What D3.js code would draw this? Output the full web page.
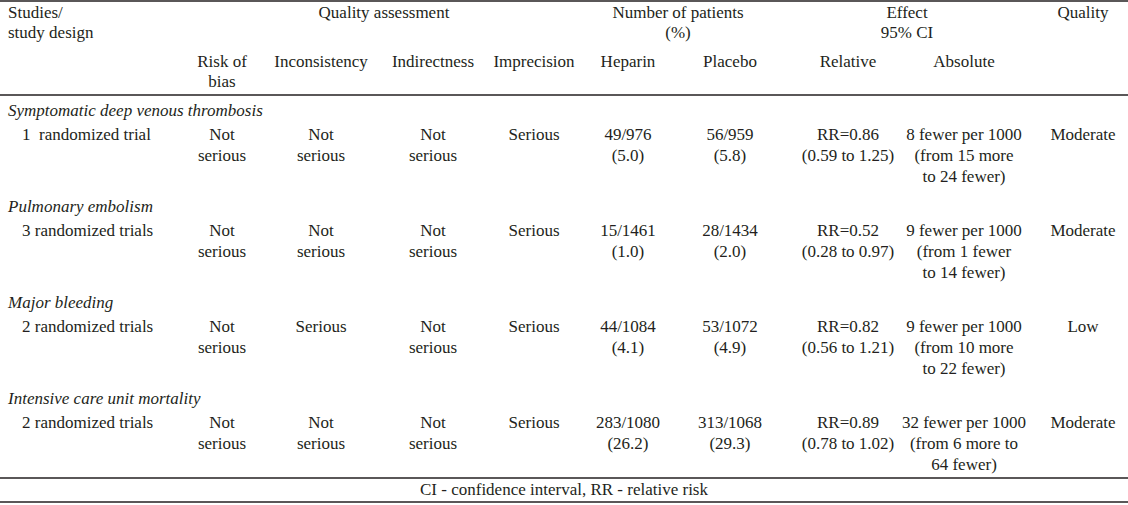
<!DOCTYPE html>
<html>
<head>
<meta charset="utf-8">
<script src="https://cdn.jsdelivr.net/npm/d3@7"></script>
<style>
  body { margin: 0; background: #fff; }
</style>
</head>
<body>
<div id="table"></div>
<script>
// GRADE evidence table - heparin vs placebo

let width = 1128;
let height = 505;

let outcomes = ["Symptomatic deep venous thrombosis", "Pulmonary embolism", "Major bleeding", "Intensive care unit mortality"];
let designs = ["1  randomized trial", "3 randomized trials", "2 randomized trials", "2 randomized trials"];
let riskOfBias = ["Not serious", "Not serious", "Not serious", "Not serious"];
let inconsistency = ["Not serious", "Not serious", "Serious", "Not serious"];
let indirectness = ["Not serious", "Not serious", "Not serious", "Not serious"];
let imprecision = ["Serious", "Serious", "Serious", "Serious"];
let heparinEvents = ["49/976", "15/1461", "44/1084", "283/1080"];
let heparinPct = ["5.0", "1.0", "4.1", "26.2"];
let placeboEvents = ["56/959", "28/1434", "53/1072", "313/1068"];
let placeboPct = ["5.8", "2.0", "4.9", "29.3"];
let relRisk = ["0.86", "0.52", "0.82", "0.89"];
let ciLow = ["0.59", "0.28", "0.56", "0.78"];
let ciHigh = ["1.25", "0.97", "1.21", "1.02"];
let absolute = [
    ["8 fewer per 1000", "(from 15 more", "to 24 fewer)"],
    ["9 fewer per 1000", "(from 1 fewer", "to 14 fewer)"],
    ["9 fewer per 1000", "(from 10 more", "to 22 fewer)"],
    ["32 fewer per 1000", "(from 6 more to", "64 fewer)"]
];
let quality = ["Moderate", "Moderate", "Low", "Moderate"];
let footnote = "CI - confidence interval, RR - relative risk";

let columns = ["bias", "incons", "indir", "imprec", "heparin", "placebo", "relative", "absolute", "quality"];
let subHeaders = [["Risk of", "bias"], ["Inconsistency"], ["Indirectness"], ["Imprecision"], ["Heparin"], ["Placebo"], ["Relative"], ["Absolute"], []];

// column centres
let x = d3.scaleOrdinal()
    .domain(columns)
    .range([222, 321, 433, 534, 628, 730, 848, 964, 1083]);

// group (outcome) baselines
let y = d3.scaleLinear([0, 1], [116, 212]);
let lineH = 21;

let svg = d3.select("#table").append("svg")
    .attr("width", width)
    .attr("height", height)
    .attr("font-family", "'Liberation Serif', 'Times New Roman', Times, serif")
    .attr("font-size", 17)
    .attr("fill", "#231f20");

// rules
let rules = [1, 95, 478, 502];
svg.selectAll("line.rule")
    .data(rules)
    .join("line")
    .attr("class", "rule")
    .attr("x1", 0).attr("x2", width)
    .attr("y1", d => d).attr("y2", d => d)
    .attr("stroke", "#231f20")
    .attr("stroke-width", 1.5);

// helper for multi-line text
let multi = (g, xPos, yPos, lines, anchor = "middle") => {
    let t = g.append("text")
        .attr("text-anchor", anchor)
        .attr("x", xPos)
        .attr("y", yPos);
    lines.forEach((l, i) => {
        t.append("tspan")
            .attr("x", xPos)
            .attr("y", yPos + i * 20)
            .text(l);
    });
    return t;
};

// header
let head = svg.append("g");
multi(head, 8, 18, ["Studies/", "study design"], "start");
multi(head, 384, 18, ["Quality assessment"]);
multi(head, 678, 18, ["Number of patients", "(%)"]);
multi(head, 907, 18, ["Effect", "95% CI"]);
multi(head, x("quality"), 18, ["Quality"]);
columns.forEach((c, i) => multi(head, x(c), 67, subHeaders[i]));

let split = s => s === "Not serious" ? ["Not", "serious"] : [s];

// body
let body = svg.append("g");
outcomes.forEach((o, i) => {
    let base = y(i);
    body.append("text")
        .attr("x", 8)
        .attr("y", base)
        .attr("font-style", "italic")
        .text(o);

    let r = base + 24;
    body.append("text")
        .attr("x", 22)
        .attr("y", r)
        .style("white-space", "pre")
        .text(designs[i]);

    let cells = [
        split(riskOfBias[i]),
        split(inconsistency[i]),
        split(indirectness[i]),
        split(imprecision[i]),
        [heparinEvents[i], `(${heparinPct[i]})`],
        [placeboEvents[i], `(${placeboPct[i]})`],
        [`RR=${relRisk[i]}`, `(${ciLow[i]} to ${ciHigh[i]})`],
        absolute[i],
        [quality[i]]
    ];
    cells.forEach((lines, j) => {
        let t = body.append("text")
            .attr("text-anchor", "middle");
        lines.forEach((l, k) => {
            t.append("tspan")
                .attr("x", x(columns[j]))
                .attr("y", r + k * lineH)
                .text(l);
        });
    });
});

// footnote
svg.append("text")
    .attr("x", width / 2)
    .attr("y", 495)
    .attr("text-anchor", "middle")
    .text(footnote);
</script>
</body>
</html>
